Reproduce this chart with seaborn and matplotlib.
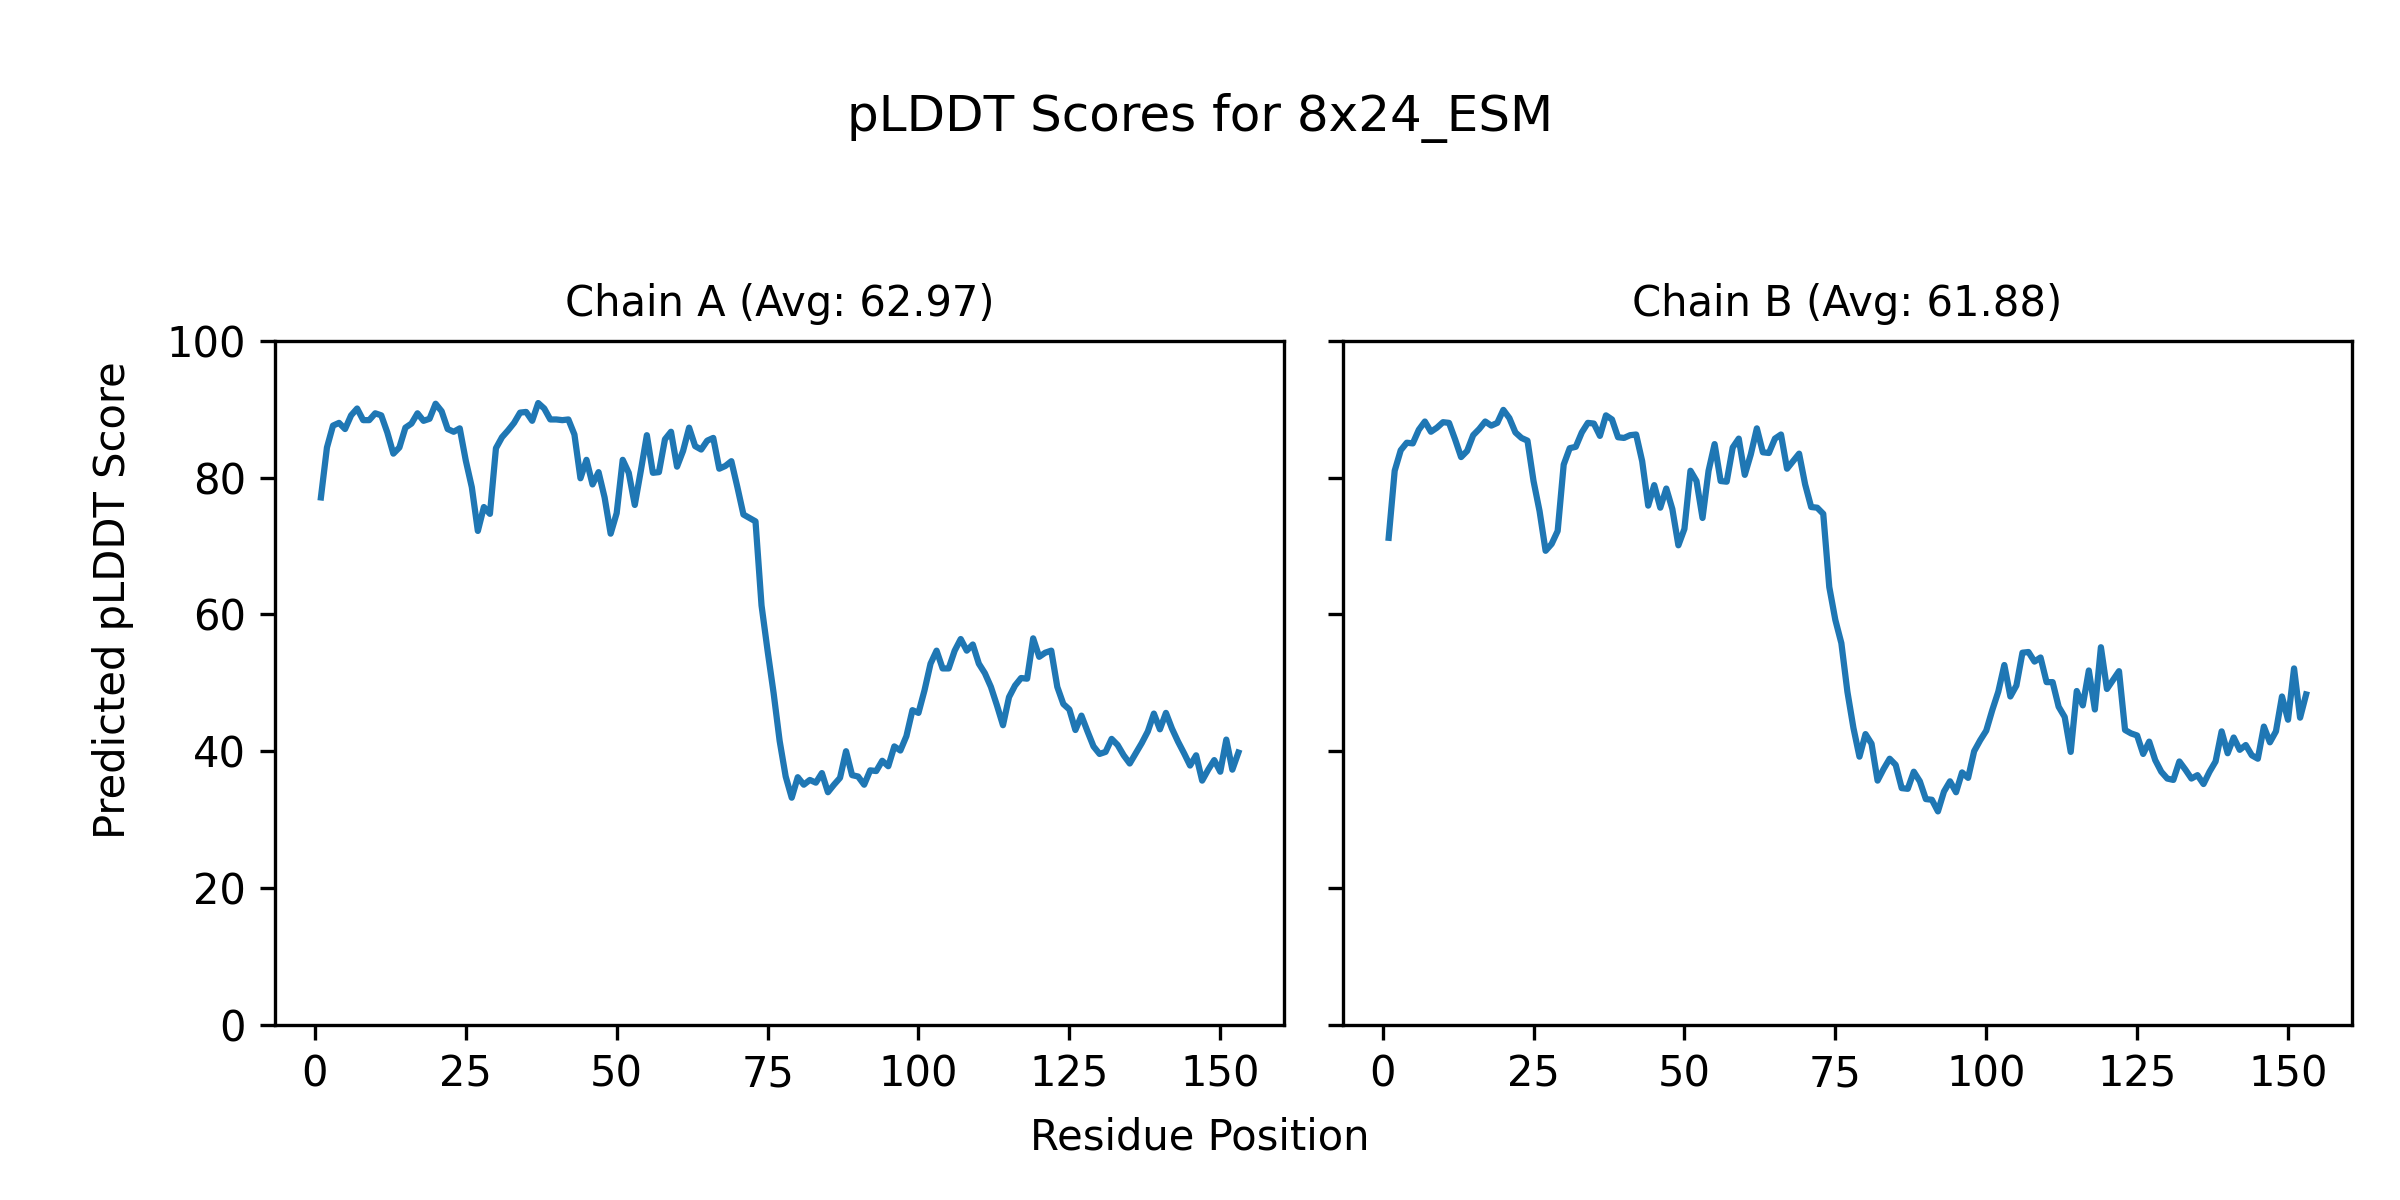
import numpy as np
import pandas as pd
import matplotlib
matplotlib.use("Agg")
import matplotlib.pyplot as plt
import seaborn as sns

# pLDDT per residue
chain_a_scores = [
    77.1, 84.4, 87.6, 88.0, 87.1, 89.1, 90.1, 88.4, 88.4, 89.4,
    89.1, 86.6, 83.5, 84.4, 87.3, 87.9, 89.4, 88.3, 88.6, 90.8,
    89.7, 87.1, 86.7, 87.2, 82.5, 78.6, 72.2, 75.7, 74.7, 84.3,
    85.9, 86.9, 88.0, 89.5, 89.6, 88.3, 90.9, 90.1, 88.5, 88.5,
    88.4, 88.5, 86.3, 79.9, 82.6, 79.0, 80.8, 77.1, 71.8, 74.8,
    82.6, 80.7, 76.0, 81.0, 86.2, 80.7, 80.8, 85.6, 86.7, 81.6,
    83.9, 87.3, 84.6, 84.1, 85.4, 85.8, 81.3, 81.7, 82.4, 78.6,
    74.6, 74.1, 73.6, 61.3, 54.7, 48.5, 41.5, 36.3, 33.2, 36.2,
    35.1, 35.8, 35.4, 36.8, 34.0, 35.1, 36.1, 40.0, 36.5, 36.3,
    35.1, 37.2, 37.1, 38.6, 37.8, 40.7, 40.1, 42.2, 46.0, 45.6,
    48.9, 52.8, 54.7, 52.1, 52.1, 54.7, 56.4, 54.7, 55.6, 52.8,
    51.4, 49.4, 46.7, 43.8, 47.9, 49.6, 50.7, 50.6, 56.5, 53.8,
    54.4, 54.7, 49.4, 46.9, 46.1, 43.1, 45.2, 42.9, 40.7, 39.6,
    39.9, 41.8, 40.9, 39.4, 38.2, 39.7, 41.2, 42.9, 45.5, 43.2,
    45.6, 43.3, 41.4, 39.7, 37.9, 39.4, 35.7, 37.3, 38.7, 37.0,
    41.7, 37.3, 39.8,
]

chain_b_scores = [
    71.2, 81.0, 84.0, 85.1, 85.0, 87.0, 88.2, 86.7, 87.3, 88.1,
    88.0, 85.6, 83.0, 83.9, 86.2, 87.1, 88.2, 87.6, 88.0, 89.9,
    88.7, 86.6, 85.8, 85.4, 79.5, 75.1, 69.3, 70.3, 72.2, 81.9,
    84.3, 84.5, 86.6, 88.0, 87.9, 86.1, 89.1, 88.5, 85.9, 85.8,
    86.2, 86.3, 82.4, 75.9, 78.9, 75.6, 78.4, 75.4, 70.1, 72.5,
    81.0, 79.5, 74.1, 81.0, 84.9, 79.5, 79.4, 84.4, 85.7, 80.4,
    83.4, 87.2, 83.7, 83.6, 85.7, 86.3, 81.3, 82.4, 83.5, 79.0,
    75.7, 75.6, 74.7, 64.0, 59.2, 55.8, 48.7, 43.4, 39.2, 42.5,
    41.1, 35.7, 37.4, 38.9, 38.0, 34.6, 34.5, 37.0, 35.6, 33.0,
    32.9, 31.2, 34.1, 35.6, 34.0, 36.9, 36.1, 40.0, 41.6, 43.0,
    46.0, 48.7, 52.6, 48.0, 49.6, 54.4, 54.5, 53.1, 53.7, 50.1,
    50.1, 46.5, 45.0, 39.9, 48.8, 46.7, 51.8, 46.1, 55.2, 49.1,
    50.4, 51.7, 43.1, 42.6, 42.3, 39.6, 41.4, 38.7, 37.0, 36.0,
    35.8, 38.5, 37.3, 36.0, 36.5, 35.2, 37.0, 38.5, 42.9, 39.7,
    42.0, 40.2, 40.9, 39.4, 38.9, 43.6, 41.3, 42.9, 48.0, 44.6,
    52.1, 44.9, 48.3,
]

chain_names = ["A", "B"]
chain_avgs = [62.97, 61.88]
model_name = "8x24_ESM"

series = [chain_a_scores, chain_b_scores]

fig, axes = plt.subplots(1, 2, figsize=(8, 4), dpi=300, sharey=True)

for ax, name, avg, scores in zip(axes, chain_names, chain_avgs, series):
    df = pd.DataFrame({
        "Residue": np.arange(1, len(scores) + 1),
        "pLDDT": scores,
    })
    sns.lineplot(data=df, x="Residue", y="pLDDT", ax=ax, color="#1f77b4", linewidth=1.5)
    ax.set_title(f"Chain {name} (Avg: {avg:.2f})", fontsize=10)
    ax.set_xlabel("")
    ax.set_ylabel("")
    ax.set_ylim(0, 100)
    ax.set_xticks([0, 25, 50, 75, 100, 125, 150])
    ax.set_yticks([0, 20, 40, 60, 80, 100])

fig.suptitle(f"pLDDT Scores for {model_name}", y=0.902, va="center", fontsize=12)
fig.supxlabel("Residue Position", y=0.052, va="center", fontsize=10)
fig.supylabel("Predicted pLDDT Score", x=0.047, ha="center", fontsize=10)

plt.subplots_adjust(left=0.1146, right=0.98, bottom=0.146, top=0.716, wspace=0.058)
plt.savefig("out.png", dpi=300)
